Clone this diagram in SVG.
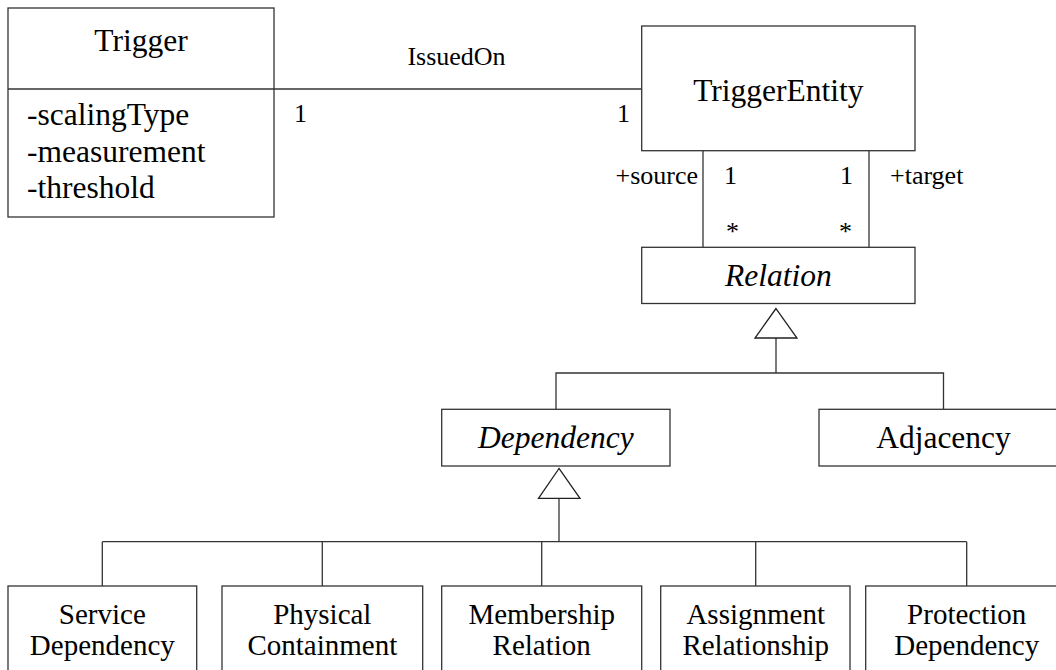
<svg xmlns="http://www.w3.org/2000/svg" width="1056" height="670" viewBox="0 0 1056 670" font-family="'Liberation Serif', 'Times New Roman', serif">
<style>
.box{fill:#fff;stroke:#333;stroke-width:1.3}
.ln{fill:none;stroke:#333;stroke-width:1.3}
.tri{fill:#fff;stroke:#222;stroke-width:1.3}
.t{font-family:'Liberation Serif','Times New Roman',serif;fill:#000}
.big{font-size:31.5px}
.mid{font-size:29px}
.sm{font-size:26px}
.it{font-style:italic}
.c{text-anchor:middle}
</style>
<rect width="1056" height="670" fill="#fff"/>
<g id="connectors">
<line class="ln" x1="274" y1="89" x2="642" y2="89"/>
<line class="ln" x1="703" y1="151" x2="703" y2="247"/>
<line class="ln" x1="869" y1="151" x2="869" y2="247"/>
<polyline class="ln" points="776,338 776,373"/>
<polyline class="ln" points="556,409 556,373 943.5,373 943.5,409"/>
<polygon class="tri" points="776,308.5 755,338 797,338"/>
<polyline class="ln" points="559,498 559,541.7"/>
<line class="ln" x1="102.3" y1="541.7" x2="966.7" y2="541.7"/>
<line class="ln" x1="102.3" y1="541.7" x2="102.3" y2="586"/>
<line class="ln" x1="322.3" y1="541.7" x2="322.3" y2="586"/>
<line class="ln" x1="541.7" y1="541.7" x2="541.7" y2="586"/>
<line class="ln" x1="755.7" y1="541.7" x2="755.7" y2="586"/>
<line class="ln" x1="966.7" y1="541.7" x2="966.7" y2="586"/>
<polygon class="tri" points="559,468.5 538.5,498.3 580,498.3"/>
<text class="t sm c" x="456.5" y="65">IssuedOn</text>
<text class="t sm" x="294" y="122">1</text>
<text class="t sm" x="617" y="122">1</text>
<text class="t sm" x="698" y="184" text-anchor="end">+source</text>
<text class="t sm" x="724" y="184">1</text>
<text class="t sm" x="840" y="184">1</text>
<text class="t sm" x="890" y="184">+target</text>
<text class="t sm" x="726" y="240">*</text>
<text class="t sm" x="839" y="240">*</text>
</g>
<g id="Trigger">
<rect class="box" x="8" y="8" width="266" height="209"/>
<line class="ln" x1="8" y1="89" x2="274" y2="89"/>
<text class="t big c" x="141" y="51">Trigger</text>
<text class="t big" x="27" y="125">-scalingType</text>
<text class="t big" x="27" y="161.5">-measurement</text>
<text class="t big" x="27" y="197.5">-threshold</text>
</g>
<g id="TriggerEntity">
<rect class="box" x="641.7" y="26" width="273.3" height="124.7"/>
<text class="t big c" x="778.3" y="101">TriggerEntity</text>
</g>
<g id="Relation">
<rect class="box" x="641.7" y="247.3" width="273.3" height="56.2"/>
<text class="t big it c" x="778.3" y="285.5">Relation</text>
</g>
<g id="Dependency">
<rect class="box" x="441.7" y="409.3" width="228.3" height="56.7"/>
<text class="t big it c" x="555.8" y="447.5">Dependency</text>
</g>
<g id="Adjacency">
<rect class="box" x="819" y="409.3" width="249" height="56.7"/>
<text class="t big c" x="943.5" y="447.5">Adjacency</text>
</g>
<g id="ServiceDependency">
<rect class="box" x="8" y="586" width="188.7" height="100"/>
<text class="t mid c" x="102.3" y="623.5">Service</text>
<text class="t mid c" x="102.3" y="654.5">Dependency</text>
</g>
<g id="PhysicalContainment">
<rect class="box" x="222" y="586" width="200.7" height="100"/>
<text class="t mid c" x="322.3" y="623.5">Physical</text>
<text class="t mid c" x="322.3" y="654.5">Containment</text>
</g>
<g id="MembershipRelation">
<rect class="box" x="441.7" y="586" width="200" height="100"/>
<text class="t mid c" x="541.7" y="623.5">Membership</text>
<text class="t mid c" x="541.7" y="654.5">Relation</text>
</g>
<g id="AssignmentRelationship">
<rect class="box" x="660.7" y="586" width="189.3" height="100"/>
<text class="t mid c" x="755.7" y="623.5">Assignment</text>
<text class="t mid c" x="755.7" y="654.5">Relationship</text>
</g>
<g id="ProtectionDependency">
<rect class="box" x="865.7" y="586" width="202" height="100"/>
<text class="t mid c" x="966.7" y="623.5">Protection</text>
<text class="t mid c" x="966.7" y="654.5">Dependency</text>
</g>
</svg>
